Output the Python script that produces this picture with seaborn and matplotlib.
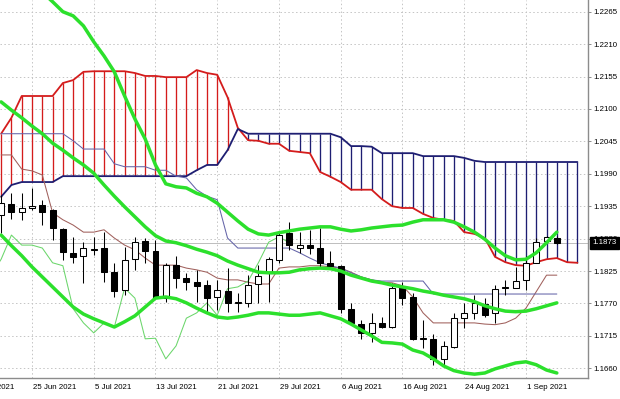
import matplotlib
matplotlib.use("Agg")
import matplotlib.pyplot as plt
import seaborn as sns
import numpy as np

sns.set_style("white")
plt.rcParams['font.family'] = ['Liberation Sans', 'DejaVu Sans']

# ---------------- data (EURUSD daily) ----------------
first_bar = -3   # bar index of the first visible candle (25 Jun 2021 = 0)

opens = [1.1920, 1.1939, 1.1925, 1.1932, 1.1937, 1.1929, 1.1896, 1.1856, 1.1851, 1.1861,
         1.1864, 1.1823, 1.1793, 1.1845, 1.1876, 1.1859, 1.1779, 1.1835, 1.1813, 1.1806,
         1.1801, 1.1781, 1.1791, 1.1771, 1.1771, 1.1803, 1.1822, 1.1844, 1.1890, 1.1864,
         1.1869, 1.1864, 1.1839, 1.1834, 1.1761, 1.1735, 1.1720, 1.1737, 1.1730, 1.1798,
         1.1781, 1.1710, 1.1710, 1.1676, 1.1696, 1.1745, 1.1754, 1.1769, 1.1754, 1.1796,
         1.1796, 1.1810, 1.1839, 1.1876, 1.1881]
highs = [1.1954, 1.1957, 1.1957, 1.1966, 1.1946, 1.1930, 1.1898, 1.1883, 1.1874, 1.1883,
         1.1891, 1.1839, 1.1866, 1.1883, 1.1881, 1.1878, 1.1839, 1.1851, 1.1822, 1.1827,
         1.1810, 1.1810, 1.1830, 1.1788, 1.1818, 1.1835, 1.1849, 1.1890, 1.1908, 1.1891,
         1.1895, 1.1898, 1.1859, 1.1835, 1.1771, 1.1742, 1.1754, 1.1747, 1.1805, 1.1806,
         1.1788, 1.1742, 1.1718, 1.1706, 1.1754, 1.1771, 1.1784, 1.1779, 1.1801, 1.1810,
         1.1832, 1.1851, 1.1881, 1.1885, 1.1885]
lows = [1.1890, 1.1913, 1.1912, 1.1929, 1.1903, 1.1878, 1.1844, 1.1839, 1.1805, 1.1852,
        1.1806, 1.1781, 1.1784, 1.1827, 1.1839, 1.1778, 1.1773, 1.1796, 1.1793, 1.1773,
        1.1756, 1.1759, 1.1756, 1.1756, 1.1764, 1.1771, 1.1773, 1.1839, 1.1861, 1.1856,
        1.1854, 1.1830, 1.1830, 1.1754, 1.1735, 1.1710, 1.1704, 1.1729, 1.1729, 1.1767,
        1.1708, 1.1694, 1.1666, 1.1664, 1.1694, 1.1729, 1.1744, 1.1747, 1.1737, 1.1784,
        1.1796, 1.1793, 1.1839, 1.1874, 1.1871]
closes = [1.1940, 1.1925, 1.1932, 1.1935, 1.1925, 1.1898, 1.1857, 1.1849, 1.1864, 1.1862,
          1.1823, 1.1791, 1.1844, 1.1874, 1.1859, 1.1779, 1.1835, 1.1813, 1.1806, 1.1800,
          1.1779, 1.1793, 1.1771, 1.1772, 1.1801, 1.1817, 1.1845, 1.1886, 1.1869, 1.1869,
          1.1864, 1.1839, 1.1834, 1.1761, 1.1737, 1.1720, 1.1737, 1.1730, 1.1796, 1.1779,
          1.1710, 1.1711, 1.1676, 1.1698, 1.1745, 1.1754, 1.1771, 1.1750, 1.1795, 1.1798,
          1.1808, 1.1839, 1.1874, 1.1883, 1.1873]

tenkan = [1.2022, 1.2022, 1.1998, 1.1995, 1.1988, 1.1924, 1.1912, 1.1903, 1.1891, 1.1891,
          1.1895, 1.1881, 1.1869, 1.1861, 1.1847, 1.1835, 1.1835, 1.1835, 1.1830, 1.1827,
          1.1823, 1.1813, 1.1810, 1.1810, 1.1806, 1.1803, 1.1803, 1.1830, 1.1832, 1.1832,
          1.1834, 1.1834, 1.1832, 1.1830, 1.1823, 1.1815, 1.1810, 1.1806, 1.1805, 1.1800,
          1.1781, 1.1754, 1.1737, 1.1737, 1.1737, 1.1737, 1.1737, 1.1735, 1.1734, 1.1737,
          1.1745, 1.1762, 1.1790, 1.1818, 1.1818]
kijun = [1.2058, 1.2058, 1.2058, 1.2058, 1.2058, 1.2058, 1.2058, 1.2046, 1.2032, 1.2032,
         1.2032, 1.2007, 1.2002, 1.2002, 1.2002, 1.1996, 1.1996, 1.1986, 1.1983, 1.1963,
         1.1952, 1.1946, 1.1881, 1.1864, 1.1864, 1.1864, 1.1864, 1.1864, 1.1864, 1.1856,
         1.1847, 1.1839, 1.1834, 1.1830, 1.1822, 1.1815, 1.1810, 1.1808, 1.1808, 1.1808,
         1.1808, 1.1808, 1.1786, 1.1786, 1.1786, 1.1786, 1.1786, 1.1786, 1.1786, 1.1786,
         1.1786, 1.1786, 1.1786, 1.1786, 1.1786]
senkou_a = [1.2058, 1.2085, 1.2122, 1.2122, 1.2122, 1.2122, 1.2144, 1.2149, 1.2163, 1.2164,
            1.2164, 1.2164, 1.2164, 1.2161, 1.2156, 1.2156, 1.2154, 1.2154, 1.2154, 1.2166,
            1.2161, 1.2158, 1.2120, 1.2068, 1.2047, 1.2046, 1.2041, 1.2041, 1.2029, 1.2027,
            1.2025, 1.1993, 1.1985, 1.1976, 1.1963, 1.1963, 1.1963, 1.1947, 1.1935, 1.1932,
            1.1932, 1.1922, 1.1915, 1.1912, 1.1910, 1.1891, 1.1888, 1.1881, 1.1849, 1.1840,
            1.1835, 1.1834, 1.1840, 1.1845, 1.1847, 1.1840, 1.1839]
senkou_b = [1.1951, 1.1971, 1.1976, 1.1976, 1.1976, 1.1976, 1.1986, 1.1986, 1.1986, 1.1986,
            1.1986, 1.1986, 1.1986, 1.1986, 1.1986, 1.1986, 1.1986, 1.1986, 1.1986, 1.1996,
            1.2005, 1.2005, 1.2030, 1.2066, 1.2058, 1.2058, 1.2058, 1.2058, 1.2058, 1.2058,
            1.2058, 1.2058, 1.2058, 1.2052, 1.2037, 1.2037, 1.2036, 1.2025, 1.2025, 1.2025,
            1.2025, 1.2020, 1.2020, 1.2020, 1.2020, 1.2017, 1.2012, 1.2010, 1.2010, 1.2010,
            1.2010, 1.2010, 1.2010, 1.2010, 1.2010, 1.2010, 1.2010]
bb_upper = [1.2366, 1.2349, 1.2332, 1.2315, 1.2298, 1.2282, 1.2265, 1.2258, 1.2241, 1.2214,
            1.2190, 1.2163, 1.2122, 1.2083, 1.2049, 1.2005, 1.1973, 1.1968, 1.1966, 1.1957,
            1.1951, 1.1940, 1.1925, 1.1910, 1.1896, 1.1888, 1.1886, 1.1890, 1.1893, 1.1896,
            1.1898, 1.1900, 1.1900, 1.1896, 1.1893, 1.1895, 1.1898, 1.1900, 1.1902, 1.1903,
            1.1908, 1.1912, 1.1912, 1.1912, 1.1908, 1.1900, 1.1891, 1.1879, 1.1864, 1.1851,
            1.1844, 1.1845, 1.1856, 1.1873, 1.1891]
bb_middle = [1.2112, 1.2098, 1.2085, 1.2071, 1.2058, 1.2042, 1.2030, 1.2017, 1.2005, 1.1991,
             1.1971, 1.1952, 1.1934, 1.1917, 1.1900, 1.1885, 1.1876, 1.1873, 1.1868, 1.1862,
             1.1857, 1.1851, 1.1842, 1.1835, 1.1829, 1.1823, 1.1822, 1.1822, 1.1823, 1.1827,
             1.1829, 1.1830, 1.1829, 1.1825, 1.1818, 1.1813, 1.1808, 1.1805, 1.1801, 1.1798,
             1.1795, 1.1791, 1.1788, 1.1784, 1.1781, 1.1778, 1.1773, 1.1766, 1.1761, 1.1757,
             1.1756, 1.1757, 1.1761, 1.1766, 1.1771]
bb_lower = [1.1886, 1.1868, 1.1851, 1.1832, 1.1815, 1.1798, 1.1781, 1.1764, 1.1752, 1.1744,
            1.1737, 1.1730, 1.1739, 1.1749, 1.1764, 1.1779, 1.1781, 1.1778, 1.1771, 1.1762,
            1.1754, 1.1747, 1.1745, 1.1747, 1.1750, 1.1754, 1.1754, 1.1752, 1.1750, 1.1750,
            1.1752, 1.1754, 1.1749, 1.1744, 1.1735, 1.1725, 1.1715, 1.1704, 1.1703, 1.1701,
            1.1691, 1.1686, 1.1676, 1.1664, 1.1656, 1.1652, 1.1650, 1.1652, 1.1659, 1.1664,
            1.1669, 1.1671, 1.1666, 1.1657, 1.1652]
chikou_shift = 26

date_ticks = [-6, 0, 6, 12, 18, 24, 30, 36, 42, 48]
date_labels = ["17 Jun 2021", "25 Jun 2021", "5 Jul 2021", "13 Jul 2021", "21 Jul 2021",
               "29 Jul 2021", "6 Aug 2021", "16 Aug 2021", "24 Aug 2021", "1 Sep 2021"]
price_ticks = [1.1660, 1.1715, 1.1770, 1.1825, 1.1880, 1.1935, 1.1990,
               1.2045, 1.2100, 1.2155, 1.2210, 1.2265]

# ---------------- styling ----------------
RED = "#D41C1C"
NAVY = "#1E1E72"
TENKAN = "#A0605C"
KIJUN = "#6464A8"
CHIKOU = "#6BD66B"
BB = "#2CE02C"
GRID = "#C4C4C4"
FS = 5.7

bars = np.arange(first_bar, first_bar + len(closes))
cloud_bars = np.arange(first_bar, first_bar + len(senkou_a))
o, h, l, c = map(np.array, (opens, highs, lows, closes))
sa, sb = np.array(senkou_a), np.array(senkou_b)

fig = plt.figure(figsize=(6.2, 3.99), dpi=100)
fig.patch.set_facecolor("white")
ax = fig.add_axes([0, 21 / 399, 588 / 620, 378 / 399])
ax.set_facecolor("white")

# grid
ax.set_xticks([t for t in date_ticks if t >= first_bar])
ax.set_xticklabels([])
ax.set_yticks(price_ticks)
ax.set_yticklabels([f"{p:.4f}" for p in price_ticks])
ax.grid(True, color=GRID, lw=0.7, linestyle=(0, (1.5, 2.5)), zorder=0)
ax.set_axisbelow(True)

# bid line
ax.axhline(closes[-1], color="#BDBDBD", lw=0.7, zorder=0.6)

# Ichimoku cloud
hatch_cols = np.where(sa >= sb, RED, NAVY)
ax.vlines(cloud_bars, sa, sb, colors=hatch_cols, lw=0.95, zorder=1)
sns.lineplot(x=cloud_bars, y=sa, ax=ax, color=RED, lw=1.3, estimator=None, sort=False, zorder=1.5)
sns.lineplot(x=cloud_bars, y=sb, ax=ax, color=NAVY, lw=1.3, estimator=None, sort=False, zorder=1.5)

# Tenkan / Kijun / Chikou
sns.lineplot(x=bars, y=tenkan, ax=ax, color=TENKAN, lw=0.75, estimator=None, sort=False, zorder=2)
sns.lineplot(x=bars, y=kijun, ax=ax, color=KIJUN, lw=0.75, estimator=None, sort=False, zorder=2)
sns.lineplot(x=bars - chikou_shift, y=c, ax=ax, color=CHIKOU, lw=0.75, estimator=None,
             sort=False, zorder=2)

# candles
ax.vlines(bars, l, h, color="black", lw=0.75, zorder=3)
bull = c >= o
ax.bar(bars, np.abs(c - o), bottom=np.minimum(o, c), width=0.58,
       color=np.where(bull, "white", "black"), edgecolor="black", lw=0.75, zorder=3.5)

# Bollinger bands
for band in (bb_upper, bb_middle, bb_lower):
    sns.lineplot(x=bars, y=band, ax=ax, color=BB, lw=2.5, estimator=None, sort=False,
                 zorder=4, solid_capstyle="round")

ax.set_xlim(-3.11, 54.03)
ax.set_ylim(1.16435, 1.22849)
ax.set_xlabel("")
ax.set_ylabel("")

# axes frame
for side in ("top", "left"):
    ax.spines[side].set_visible(False)
for side in ("right", "bottom"):
    ax.spines[side].set_color("#8C8C8C")
    ax.spines[side].set_linewidth(1.0)

ax.yaxis.tick_right()
ax.tick_params(axis="y", right=True, left=False, length=2.2, width=0.7, pad=1.5,
               color="#8C8C8C", labelsize=FS, labelcolor="black")
ax.tick_params(axis="x", bottom=False, length=0)

# date labels (left-aligned at their tick, as in the terminal)
for t, lab in zip(date_ticks, date_labels):
    ax.annotate(lab, xy=(t, 0), xycoords=("data", "axes fraction"), xytext=(0.6, -4.2),
                textcoords="offset points", ha="left", va="top", fontsize=FS,
                color="black", annotation_clip=False)

# current price tag
ax.annotate(f"{closes[-1]:.4f}", xy=(1.0, closes[-1]), xycoords=("axes fraction", "data"),
            xytext=(3.3, 0), textcoords="offset points", ha="left", va="center",
            fontsize=FS, color="white", annotation_clip=False, zorder=10,
            bbox=dict(boxstyle="square,pad=0.3", fc="black", ec="black"))

fig.savefig("out.png", dpi=100, facecolor="white")
